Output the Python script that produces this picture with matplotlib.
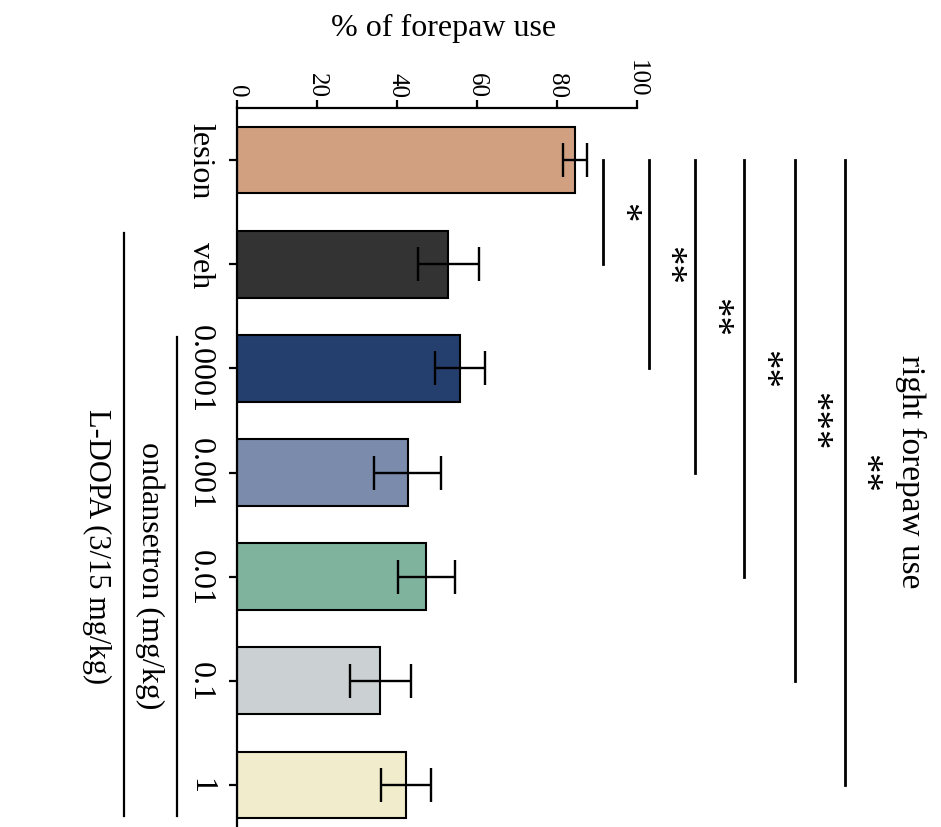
import numpy as np
import matplotlib
matplotlib.use("Agg")
import matplotlib.pyplot as plt

plt.rcParams["font.family"] = ["Liberation Serif", "DejaVu Serif"]

categories = ["lesion", "veh", "0.0001", "0.001", "0.01", "0.1", "1"]
values = [84.5, 52.8, 55.8, 42.7, 47.3, 35.8, 42.2]
errors = [2.9, 7.6, 6.3, 8.4, 7.1, 7.6, 6.2]
COLORS = ["#D0A080", "#333333", "#243F6E", "#7A8BAB", "#7FB39E", "#CBD0D3", "#F0ECCC"]

# significance brackets: lesion vs each group
sig_targets = [1, 2, 3, 4, 5, 6]
sig_x = [91.5, 102.9, 114.5, 126.8, 139.4, 151.9]
sig_labels = ["*", "**", "**", "**", "***", "**"]

x_ticks = [0, 20, 40, 60, 80, 100]

W, H = 941, 828
fig = plt.figure(figsize=(W / 100, H / 100), dpi=100)
ax = fig.add_axes([237 / W, -10 / H, 400 / W, 729 / H])

pos = np.arange(len(categories))
ax.barh(pos, values, height=0.64, color=COLORS, edgecolor="black", linewidth=1.5, zorder=2)
ax.errorbar(values, pos, xerr=errors, fmt="none", ecolor="black",
            elinewidth=1.7, capsize=12, capthick=1.7, zorder=3)

ax.set_xlim(0, 100)
ax.set_ylim(len(categories) - 0.5, -0.5)

ax.spines["right"].set_visible(False)
ax.spines["bottom"].set_visible(False)
ax.spines["top"].set_linewidth(1.6)
ax.spines["left"].set_linewidth(1.6)

ax.xaxis.set_ticks_position("top")
ax.set_xticks(x_ticks)
ax.set_xticklabels([str(t) for t in x_ticks], rotation=-90, fontsize=18)
ax.tick_params(axis="x", length=6, width=1.6, pad=2)

ax.set_yticks(pos)
ax.set_yticklabels(categories, rotation=-90, fontsize=23, va="center")
ax.tick_params(axis="y", length=6, width=1.6, pad=10)

fig.text(444 / W, 1 - 28 / H, "% of forepaw use", fontsize=23, ha="center", va="center")

for j, x, lab in zip(sig_targets, sig_x, sig_labels):
    ax.plot([x, x], [0, j], color="black", linewidth=2.0, clip_on=False)
    ax.text(x + 4.8, j / 2, lab, rotation=-90, fontsize=28, ha="center", va="center")

ax.text(168.3, 2.98, "right forepaw use", rotation=-90, fontsize=24,
        ha="center", va="center", clip_on=False)

# group lines on the left
ax.plot([-15, -15], [1.7, 6.3], color="black", linewidth=1.6, clip_on=False)
ax.text(-21.7, 3.98, "ondansetron (mg/kg)", rotation=-90, fontsize=23,
        ha="center", va="center", clip_on=False)
ax.plot([-28.3, -28.3], [0.7, 6.3], color="black", linewidth=1.6, clip_on=False)
ax.text(-35.0, 3.70, "L-DOPA (3/15 mg/kg)", rotation=-90, fontsize=22,
        ha="center", va="center", clip_on=False)

fig.savefig("out.png", dpi=100)
